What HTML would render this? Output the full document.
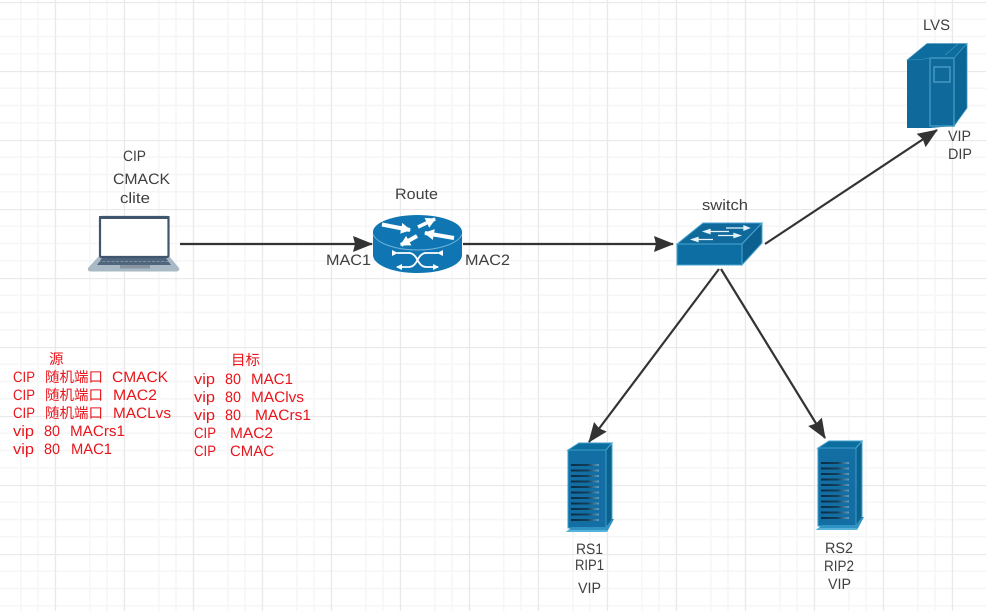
<!DOCTYPE html>
<html><head><meta charset="utf-8"><style>
html,body{margin:0;padding:0;background:#fff;width:986px;height:611px;overflow:hidden}
svg{display:block}
text{font-family:"Liberation Sans","Noto Sans CJK SC",sans-serif;font-size:15px;fill:#404040;text-rendering:geometricPrecision}
.r text{fill:#e8161c}
</style></head><body>
<svg width="986" height="611" viewBox="0 0 986 611" xmlns="http://www.w3.org/2000/svg">
<defs>
<pattern id="g" x="3.500" y="2" width="69" height="69" patternUnits="userSpaceOnUse">
<path d="M17.250 0V69M34.500 0V69M51.750 0V69M0 17.250H69M0 34.500H69M0 51.750H69" stroke="#f6f6f6" stroke-width="1.500" fill="none"/>
</pattern>
<pattern id="G" x="55" y="2" width="69" height="69" patternUnits="userSpaceOnUse">
<path d="M.5 0V69M0 .5H69" stroke="#e9e9e9" stroke-width="1.300" fill="none"/>
</pattern>
<linearGradient id="st" x1="0" x2="1" y1="0" y2="0"><stop offset="0" stop-color="#0b2c42"/><stop offset=".6" stop-color="#123f5c"/><stop offset="1" stop-color="#5f9fc2"/></linearGradient>
<g id="srv">
<path d="M568 450L579 443H612V517L606 528H568Z" fill="#0f6a9b"/>
<path d="M568 450L579 443H612L606 450Z" fill="#0c6d9f" stroke="#3d9cc9" stroke-width="1"/>
<path d="M606 450L612 443V520L606 528Z" fill="#0b628f" stroke="#4aa6d0" stroke-width="1"/>
<rect x="568" y="450" width="38" height="78" fill="#136fa3" stroke="#3d9cc9" stroke-width="1"/>
<g fill="url(#st)">
<rect x="571" y="464" width="28" height="2"/><rect x="571" y="469.500" width="28" height="2"/><rect x="571" y="475" width="28" height="2"/><rect x="571" y="480.500" width="28" height="2"/><rect x="571" y="486" width="28" height="2"/><rect x="571" y="491.500" width="28" height="2"/><rect x="571" y="497" width="28" height="2"/><rect x="571" y="502.500" width="28" height="2"/><rect x="571" y="508" width="28" height="2"/><rect x="571" y="513.500" width="28" height="2"/><rect x="571" y="519" width="28" height="2"/>
</g>
<path d="M566 532L572 527H606L612 519H614L607 532Z" fill="#2f93c3"/>
<path d="M566 532H607V530H568Z" fill="#59b2d8"/>
</g>
<marker id="a" viewBox="0 0 20 16" refX="19" refY="8" markerWidth="20" markerHeight="16" markerUnits="userSpaceOnUse" orient="auto"><path d="M0 0L20 8L0 16L2 8Z" fill="#333"/></marker>
<marker id="w" viewBox="0 0 6 6" refX="5" refY="3" markerWidth="6" markerHeight="6" markerUnits="userSpaceOnUse" orient="auto"><path d="M0 0L6 3L0 6Z" fill="#fff"/></marker>
<marker id="W" viewBox="0 0 10 11" refX="9" refY="5.500" markerWidth="10" markerHeight="11" markerUnits="userSpaceOnUse" orient="auto"><path d="M0 0L10 5.500L0 11Z" fill="#fff"/></marker>
</defs>
<rect width="986" height="611" fill="#fff"/>
<rect width="986" height="611" fill="url(#g)"/>
<rect width="986" height="611" fill="url(#G)"/>

<!-- connectors -->
<g stroke="#333" stroke-width="2.200" fill="none">
<path d="M180 244H372" marker-end="url(#a)"/>
<path d="M463 244H673" marker-end="url(#a)"/>
<path d="M765 244L937 130" marker-end="url(#a)"/>
<path d="M719 269L589 442" marker-end="url(#a)"/>
<path d="M721 269L825 438" marker-end="url(#a)"/>
</g>

<!-- laptop -->
<path d="M99 256L88 268Q87 271.500 91 271.500H176Q180 271.500 179 268L169 256Z" fill="#a9b9c6"/>
<path d="M102 258H166L171 265H97Z" fill="#4f667c"/>
<path d="M98 261.500H170" stroke="#a9b9c6" stroke-width=".6" stroke-dasharray="3 1.500"/>
<rect x="120" y="265" width="30" height="3.500" fill="#86959f"/>
<rect x="100" y="217" width="68.500" height="40" rx="1.500" fill="#fff" stroke="#3f566e" stroke-width="2.200"/>
<rect x="99" y="216" width="70.500" height="3" fill="#3f566e"/>

<!-- router -->
<path d="M373 232V255C373 265 393 273 417.500 273S462 265 462 255V232Z" fill="#0f76b3"/>
<ellipse cx="417.500" cy="232" rx="44.500" ry="17" fill="#0f76b3"/>
<path d="M373 234C376 243 395 250 417.500 250S459 243 462 234" fill="none" stroke="#6fb3da" stroke-width="1"/>
<g fill="none" stroke="#fff">
<path d="M382 224.500L410 230" stroke-width="4" marker-end="url(#W)"/>
<path d="M418 227L435 219" stroke-width="3.500" marker-end="url(#W)"/>
<path d="M454 238L425 233" stroke-width="4" marker-end="url(#W)"/>
<path d="M417 236L401 245" stroke-width="4" marker-end="url(#W)"/>
<path d="M438 253H426Q421 253 417.500 260T409 267H397" stroke-width="1.800" marker-end="url(#w)" marker-start="url(#w)"/>
<path d="M397 253H409Q414 253 417.500 260T426 267H438" stroke-width="1.800" marker-end="url(#w)" marker-start="url(#w)"/>
</g>

<!-- switch -->
<path d="M677 244L703 223H762L742 244Z" fill="#0f6a9b" stroke="#4aa6d0" stroke-width="1"/>
<path d="M742 244L762 223V243L742 265Z" fill="#0b6090" stroke="#4aa6d0" stroke-width="1"/>
<rect x="677" y="244" width="65" height="21" fill="#0c6ea3" stroke="#4aa6d0" stroke-width="1"/>
<g stroke="#e6f3fa" stroke-width="1.300" fill="#e6f3fa">
<path d="M726 228H747"/><path d="M749 228L744 226V230Z"/>
<path d="M708 231.500H729"/><path d="M704 231.500L710 229.500V233.500Z"/>
<path d="M718 235.500H737"/><path d="M740 235.500L734 233.500V237.500Z"/>
<path d="M696 239.500H713"/><path d="M692 239.500L698 237.500V241.500Z"/>
</g>

<!-- LVS -->
<path d="M907 60L927 43.500H967L954 58V126L930 128H907Z" fill="#0f6a9b"/>
<path d="M907 60L927 43.500H967L954 58H930Q920 60 907 60Z" fill="#0e6d9f" stroke="#3f97c2" stroke-width=".6"/>
<path d="M954 58L967 43.500V108L954 126Z" fill="#0d6595" stroke="#3f97c2" stroke-width=".8"/>
<path d="M930 58H954V126H930Z" fill="#0f6a9b" stroke="#3f97c2" stroke-width="1.400"/>
<rect x="934" y="67" width="16" height="15" fill="none" stroke="#4fa0c9" stroke-width="1.300"/>
<path d="M945 55L958 44" stroke="#3f97c2" stroke-width=".8"/>

<!-- servers -->
<use href="#srv"/>
<use href="#srv" x="250" y="-2"/>

<!-- labels -->
<text x="123" y="161" textLength="23" lengthAdjust="spacingAndGlyphs">CIP</text>
<text x="113" y="184" textLength="57" lengthAdjust="spacingAndGlyphs">CMACK</text>
<text x="120" y="203" textLength="30" lengthAdjust="spacingAndGlyphs">clite</text>
<text x="395" y="199" textLength="43" lengthAdjust="spacingAndGlyphs">Route</text>
<text x="326" y="265" textLength="45" lengthAdjust="spacingAndGlyphs">MAC1</text>
<text x="465" y="265" textLength="45" lengthAdjust="spacingAndGlyphs">MAC2</text>
<text x="702" y="210" textLength="46" lengthAdjust="spacingAndGlyphs">switch</text>
<text x="923" y="30" textLength="27" lengthAdjust="spacingAndGlyphs">LVS</text>
<text x="948" y="141" textLength="23" lengthAdjust="spacingAndGlyphs">VIP</text>
<text x="948" y="159" textLength="24" lengthAdjust="spacingAndGlyphs">DIP</text>
<text x="576" y="554" textLength="27" lengthAdjust="spacingAndGlyphs">RS1</text>
<text x="575" y="570" textLength="29" lengthAdjust="spacingAndGlyphs">RIP1</text>
<text x="578" y="593" textLength="23" lengthAdjust="spacingAndGlyphs">VIP</text>
<text x="825" y="553" textLength="28" lengthAdjust="spacingAndGlyphs">RS2</text>
<text x="824" y="571" textLength="30" lengthAdjust="spacingAndGlyphs">RIP2</text>
<text x="828" y="589" textLength="23" lengthAdjust="spacingAndGlyphs">VIP</text>

<g class="r">
<text x="49" y="364" style="font-size:14.500px">源</text>
<text x="13" y="382" textLength="22" lengthAdjust="spacingAndGlyphs">CIP</text><text x="45" y="382" style="font-size:14.500px">随机端口</text><text x="112" y="382" textLength="56" lengthAdjust="spacingAndGlyphs">CMACK</text>
<text x="13" y="400" textLength="22" lengthAdjust="spacingAndGlyphs">CIP</text><text x="45" y="400" style="font-size:14.500px">随机端口</text><text x="113" y="400" textLength="44" lengthAdjust="spacingAndGlyphs">MAC2</text>
<text x="13" y="418" textLength="22" lengthAdjust="spacingAndGlyphs">CIP</text><text x="45" y="418" style="font-size:14.500px">随机端口</text><text x="113" y="418" textLength="58" lengthAdjust="spacingAndGlyphs">MACLvs</text>
<text x="13" y="436" textLength="21" lengthAdjust="spacingAndGlyphs">vip</text><text x="44" y="436" textLength="16" lengthAdjust="spacingAndGlyphs">80</text><text x="70" y="436" textLength="55" lengthAdjust="spacingAndGlyphs">MACrs1</text>
<text x="13" y="454" textLength="21" lengthAdjust="spacingAndGlyphs">vip</text><text x="44" y="454" textLength="16" lengthAdjust="spacingAndGlyphs">80</text><text x="71" y="454" textLength="41" lengthAdjust="spacingAndGlyphs">MAC1</text>
<text x="231" y="365" style="font-size:14.500px">目标</text>
<text x="194" y="384" textLength="21" lengthAdjust="spacingAndGlyphs">vip</text><text x="225" y="384" textLength="16" lengthAdjust="spacingAndGlyphs">80</text><text x="251" y="384" textLength="42" lengthAdjust="spacingAndGlyphs">MAC1</text>
<text x="194" y="402" textLength="21" lengthAdjust="spacingAndGlyphs">vip</text><text x="225" y="402" textLength="16" lengthAdjust="spacingAndGlyphs">80</text><text x="251" y="402" textLength="53" lengthAdjust="spacingAndGlyphs">MAClvs</text>
<text x="194" y="420" textLength="21" lengthAdjust="spacingAndGlyphs">vip</text><text x="225" y="420" textLength="16" lengthAdjust="spacingAndGlyphs">80</text><text x="255" y="420" textLength="56" lengthAdjust="spacingAndGlyphs">MACrs1</text>
<text x="194" y="438" textLength="22" lengthAdjust="spacingAndGlyphs">CIP</text><text x="230" y="438" textLength="43" lengthAdjust="spacingAndGlyphs">MAC2</text>
<text x="194" y="456" textLength="22" lengthAdjust="spacingAndGlyphs">CIP</text><text x="230" y="456" textLength="44" lengthAdjust="spacingAndGlyphs">CMAC</text>
</g>
</svg>
</body></html>
